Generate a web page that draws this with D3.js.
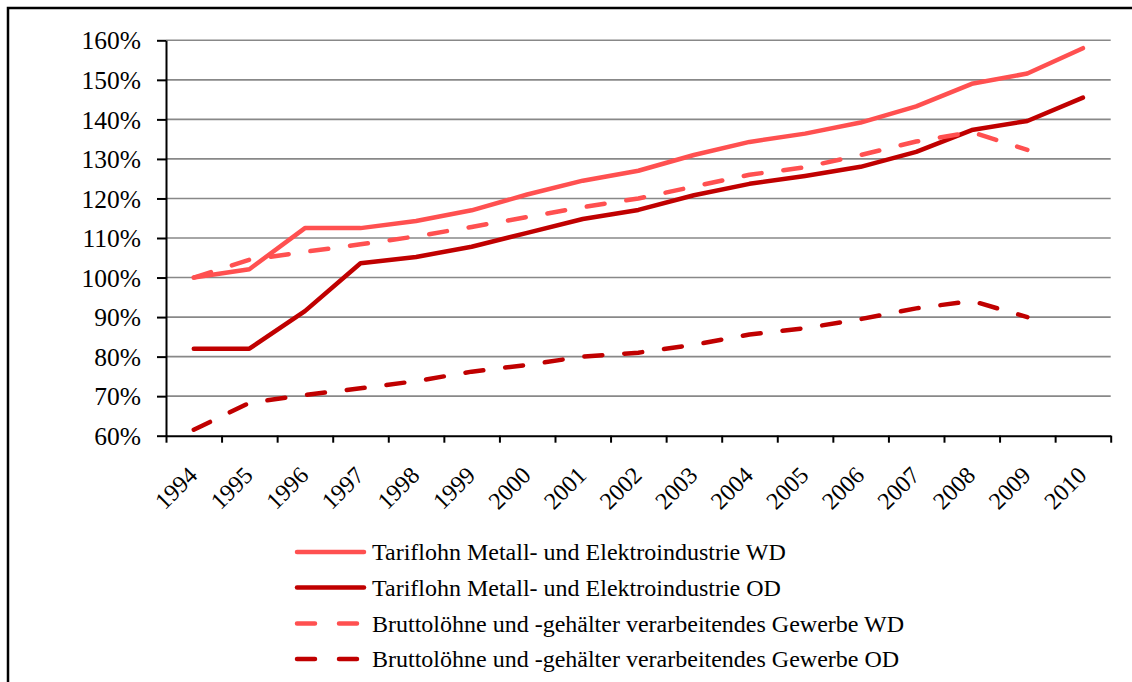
<!DOCTYPE html>
<html>
<head>
<meta charset="utf-8">
<script src="https://cdn.jsdelivr.net/npm/d3@7"></script>
<style>
  body { margin: 0; background: #fff; }
  svg text { font-family: 'Liberation Serif', 'DejaVu Serif', 'Times New Roman', Times, serif; }
</style>
</head>
<body>
<div id="chart"></div>
<script>
const years = ['1994', '1995', '1996', '1997', '1998', '1999', '2000', '2001', '2002',
  '2003', '2004', '2005', '2006', '2007', '2008', '2009', '2010'];

const tarifWD = [1.000, 1.021, 1.125, 1.125, 1.143, 1.170, 1.210, 1.245, 1.270,
  1.310, 1.343, 1.364, 1.392, 1.433, 1.490, 1.516, 1.580];
const tarifOD = [0.820, 0.820, 0.915, 1.036, 1.052, 1.078, 1.113, 1.148, 1.171,
  1.208, 1.237, 1.257, 1.280, 1.318, 1.373, 1.396, 1.455];
const bruttoWD = [1.000, 1.045, 1.065, 1.084, 1.104, 1.128, 1.153, 1.178, 1.200,
  1.230, 1.260, 1.279, 1.310, 1.344, 1.368, 1.323, null];
const bruttoOD = [0.615, 0.683, 0.703, 0.720, 0.738, 0.762, 0.779, 0.800, 0.810,
  0.830, 0.856, 0.872, 0.895, 0.922, 0.941, 0.900, null];

const seriesNames = [
  'Tariflohn Metall- und Elektroindustrie WD',
  'Tariflohn Metall- und Elektroindustrie OD',
  'Bruttolöhne und -gehälter verarbeitendes Gewerbe WD',
  'Bruttolöhne und -gehälter verarbeitendes Gewerbe OD',
];
const yTicks = [0.6, 0.7, 0.8, 0.9, 1.0, 1.1, 1.2, 1.3, 1.4, 1.5, 1.6];

const width = 1132;
const height = 682;
const light = '#ff5050';
const dark = '#c00000';

const series = [
  { name: seriesNames[0], values: tarifWD, color: light, dash: null },
  { name: seriesNames[1], values: tarifOD, color: dark, dash: null },
  { name: seriesNames[2], values: bruttoWD, color: light, dash: '18,22' },
  { name: seriesNames[3], values: bruttoOD, color: dark, dash: '18,22' },
];

const svg = d3.select('#chart').append('svg')
  .attr('width', width)
  .attr('height', height);

// outer frame
svg.append('rect')
  .attr('x', 8).attr('y', 8)
  .attr('width', 1200).attr('height', 800)
  .attr('fill', 'none')
  .attr('stroke', '#000')
  .attr('stroke-width', 2.5);

const plot = { left: 166, right: 1110.7, top: 40.3, bottom: 435.7 };

const x = d3.scaleBand().domain(years).range([plot.left, plot.right]);
const xEdge = d3.scaleLinear().domain([0, years.length]).range([plot.left, plot.right]);
const y = d3.scaleLinear().domain([0.6, 1.6]).range([plot.bottom, plot.top]);

// grid
svg.append('g')
  .selectAll('line')
  .data(yTicks.slice(1))
  .join('line')
  .attr('x1', plot.left)
  .attr('x2', plot.right)
  .attr('y1', (d) => y(d))
  .attr('y2', (d) => y(d))
  .attr('stroke', '#888')
  .attr('stroke-width', 1.6);

// y axis
const yAxis = svg.append('g')
  .attr('transform', `translate(${plot.left},0)`)
  .call(d3.axisLeft(y).tickValues(yTicks).tickFormat(d3.format('.0%'))
    .tickSize(9).tickSizeOuter(0).tickPadding(16));
yAxis.attr('font-family', null);
yAxis.selectAll('path, line').attr('stroke', '#000').attr('stroke-width', 2);
yAxis.selectAll('text')
  .attr('font-size', 25.5)
  .attr('fill', '#000')
  .attr('dy', '0.34em');

// x axis: ticks at category edges
const xTickAxis = svg.append('g')
  .attr('transform', `translate(0,${plot.bottom})`)
  .call(d3.axisBottom(xEdge).tickValues(d3.range(0, years.length + 1))
    .tickFormat('').tickSize(7).tickSizeOuter(0));
xTickAxis.selectAll('path, line').attr('stroke', '#000').attr('stroke-width', 2);

// x labels
const xLabelAxis = svg.append('g')
  .attr('transform', `translate(0,${plot.bottom})`)
  .call(d3.axisBottom(x).tickSize(0));
xLabelAxis.attr('font-family', null);
xLabelAxis.select('.domain').remove();
xLabelAxis.selectAll('text')
  .attr('font-size', 24)
  .attr('fill', '#000')
  .attr('text-anchor', 'end')
  .attr('dy', 0)
  .attr('y', 0)
  .attr('transform', 'translate(5,41) rotate(-45)');

// lines
const line = d3.line()
  .defined((d) => d != null)
  .x((d, i) => x(years[i]) + x.bandwidth() / 2)
  .y((d) => y(d));

series.forEach((s) => {
  svg.append('path')
    .datum(s.values)
    .attr('d', line)
    .attr('fill', 'none')
    .attr('stroke', s.color)
    .attr('stroke-width', 4.5)
    .attr('stroke-linejoin', 'round')
    .attr('stroke-linecap', 'round')
    .attr('stroke-dasharray', s.dash);
});

// legend
const legendY = [552, 587.5, 623.5, 659];
const legend = svg.append('g');
series.forEach((s, i) => {
  legend.append('line')
    .attr('x1', 297).attr('x2', 364)
    .attr('y1', legendY[i]).attr('y2', legendY[i])
    .attr('stroke', s.color)
    .attr('stroke-width', 4.5)
    .attr('stroke-linecap', 'round')
    .attr('stroke-dasharray', s.dash ? '18,24' : null);
  legend.append('text')
    .attr('x', 372)
    .attr('y', legendY[i])
    .attr('dy', '0.34em')
    .attr('font-size', 24)
    .attr('fill', '#000')
    .text(s.name);
});
</script>
</body>
</html>
